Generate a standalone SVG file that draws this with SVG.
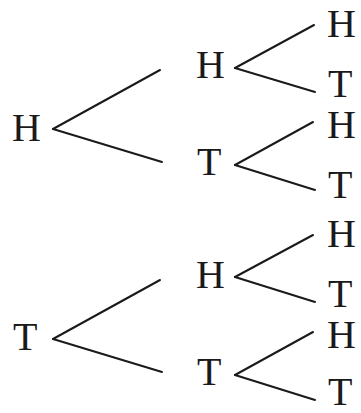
<svg xmlns="http://www.w3.org/2000/svg" width="361" height="413" viewBox="0 0 361 413">
<style>
text{font-family:"Liberation Serif","Times New Roman",serif;font-size:40px;fill:#1a1a1a}
.c line{stroke:#1a1a1a;stroke-width:2;stroke-linecap:round}
</style>
<rect width="361" height="413" fill="#fff"/>
<g class="c" id="connectors">
<line x1="53" y1="129" x2="160" y2="70"/>
<line x1="53" y1="129" x2="162" y2="162"/>
<line x1="235" y1="68" x2="314" y2="25"/>
<line x1="235" y1="68" x2="315" y2="92"/>
<line x1="235" y1="165" x2="313" y2="122"/>
<line x1="235" y1="165" x2="315" y2="190"/>
<line x1="53" y1="339" x2="160" y2="280"/>
<line x1="53" y1="339" x2="162" y2="372"/>
<line x1="235" y1="277" x2="313" y2="235"/>
<line x1="235" y1="277" x2="315" y2="302"/>
<line x1="235" y1="375" x2="313" y2="332"/>
<line x1="235" y1="375" x2="315" y2="400"/>
</g>
<g id="n1"><text x="12" y="141">H</text></g>
<g id="n2"><text x="196" y="78">H</text></g>
<g id="n3"><text x="327" y="37">H</text></g>
<g id="n4"><text x="328" y="97">T</text></g>
<g id="n5"><text x="197" y="175">T</text></g>
<g id="n6"><text x="327" y="138">H</text></g>
<g id="n7"><text x="328" y="198">T</text></g>
<g id="n8"><text x="13" y="350">T</text></g>
<g id="n9"><text x="196" y="288">H</text></g>
<g id="n10"><text x="327" y="247">H</text></g>
<g id="n11"><text x="328" y="307">T</text></g>
<g id="n12"><text x="197" y="385">T</text></g>
<g id="n13"><text x="327" y="348">H</text></g>
<g id="n14"><text x="328" y="405">T</text></g>
</svg>
